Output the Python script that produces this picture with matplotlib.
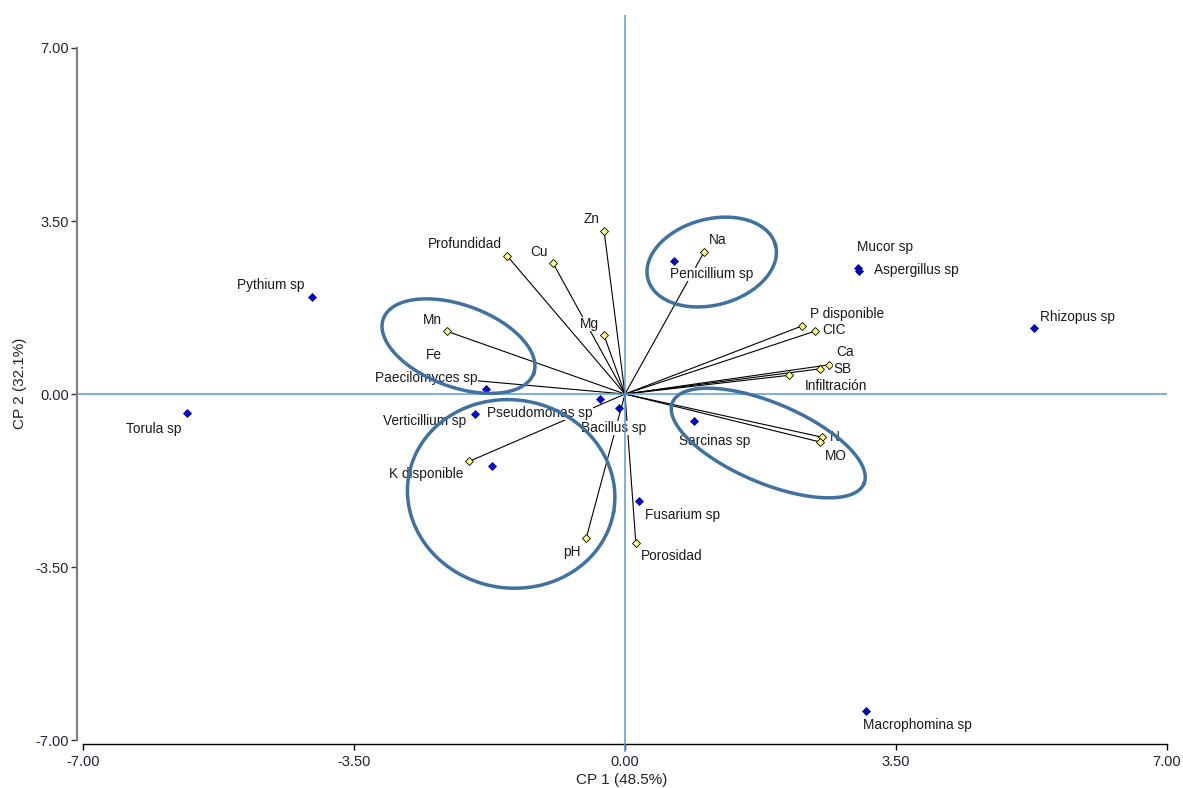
import numpy as np
import matplotlib
matplotlib.use('Agg')
import matplotlib.pyplot as plt

plt.rcParams['font.family'] = ['Liberation Sans', 'DejaVu Sans']

# variables del suelo (vectores desde el origen)
var_names = ['Zn', 'Profundidad', 'Cu', 'Mg', 'Mn', 'Fe', 'Na', 'P disponible', 'CIC',
             'Ca', 'SB', 'Infiltración', 'N', 'MO', 'pH', 'Porosidad', 'K disponible']
var_x = [-0.27, -1.52, -0.93, -0.27, -2.30, -2.27, 1.02, 2.29, 2.45,
         2.63, 2.52, 2.12, 2.54, 2.52, -0.50, 0.14, -2.01]
var_y = [3.30, 2.79, 2.65, 1.19, 1.27, 0.32, 2.87, 1.38, 1.27,
         0.59, 0.51, 0.38, -0.87, -0.97, -2.91, -3.01, -1.36]

# microorganismos
sp_names = ['Pythium sp', 'Torula sp', 'Paecilomyces sp', 'Verticillium sp', 'Pseudomonas sp',
            'Bacillus sp', '', 'Sarcinas sp', 'Fusarium sp', 'Penicillium sp', 'Mucor sp',
            'Aspergillus sp', 'Rhizopus sp', 'Macrophomina sp']
sp_x = [-4.04, -5.66, -1.80, -1.94, -0.32, -0.08, -1.72, 0.89, 0.18, 0.63, 3.01, 3.02, 5.28, 3.11]
sp_y = [1.96, -0.38, 0.10, -0.40, -0.10, -0.28, -1.46, -0.54, -2.16, 2.69, 2.55, 2.49, 1.34, -6.41]

# desplazamiento de etiquetas (pixeles)
var_off = [(-13, 12), (-42, 12), (-14, 11), (-15, 11), (-15, 11), (-15, 23), (14, 12),
           (45, 12), (19, 1), (16, 13), (22, 0), (47, -11), (13, 0), (16, -14),
           (-14, -14), (36, -13), (-43, -13)]
sp_off = [(-41, 12), (-33, -16), (-59, 11), (-50, -7), (-60, -14), (-5, -20), (0, 0),
          (21, -20), (44, -14), (38, -13), (27, 21), (58, 1), (44, 11), (52, -14)]

# elipses: centro (datos), semiejes (px), angulo (grados)
ellipses = [((1.12, 2.67), 66, 43, 15),
            ((-2.15, 0.97), 80, 41, -20),
            ((-1.47, -2.02), 104, 94, -10),
            ((1.85, -0.99), 104, 40, -23)]

W, H = 1183, 788
fig = plt.figure(figsize=(W / 100, H / 100), dpi=100)
ax = fig.add_axes([77 / W, (H - 752) / H, (1167 - 77) / W, (752 - 15) / H])
ax.set_xlim(-7.077, 7.0)
ax.set_ylim(-7.24, 7.667)

# lineas de referencia por encima del fondo de las etiquetas
ax.axhline(0, color='#5B9BD5', lw=1.1, zorder=4.5)
ax.axvline(0, color='#5B9BD5', lw=1.1, zorder=4.5)

for x, y in zip(var_x, var_y):
    ax.plot([0, x], [0, y], color='black', lw=0.8, zorder=2)

ax.plot(var_x, var_y, linestyle='none', marker='D', markersize=4.5,
        markerfacecolor='#FFFF80', markeredgecolor='black', markeredgewidth=0.6, zorder=3)
ax.plot(sp_x, sp_y, linestyle='none', marker='D', markersize=4.5,
        markerfacecolor='#0000CC', markeredgecolor='#000080', markeredgewidth=0.5, zorder=3)

for name, x, y, (dx, dy) in zip(var_names + sp_names, var_x + sp_x, var_y + sp_y, var_off + sp_off):
    if not name:
        continue
    ax.annotate(name, (x, y), xytext=(dx, dy), textcoords='offset pixels',
                ha='center', va='center', fontsize=9.8, color='#1a1a1a', zorder=4,
                bbox=dict(facecolor='white', edgecolor='none', pad=0.1))

# elipses dibujadas en espacio de pixeles
sx = ax.get_position().width * W / (ax.get_xlim()[1] - ax.get_xlim()[0])
sy = ax.get_position().height * H / (ax.get_ylim()[1] - ax.get_ylim()[0])
t = np.linspace(0, 2 * np.pi, 300)
for (cx, cy), a, b, ang in ellipses:
    th = np.radians(ang)
    ex = cx + (a * np.cos(t) * np.cos(th) - b * np.sin(t) * np.sin(th)) / sx
    ey = cy + (a * np.cos(t) * np.sin(th) + b * np.sin(t) * np.cos(th)) / sy
    ax.plot(ex, ey, color='#41729F', lw=2.5, zorder=5)

# ejes separados
ticks = [-7.0, -3.5, 0.0, 3.5, 7.0]
ax.spines['top'].set_visible(False)
ax.spines['right'].set_visible(False)
ax.spines['left'].set_bounds(-7, 7)
ax.spines['left'].set_color('#808080')
ax.spines['left'].set_linewidth(1.6)
ax.spines['bottom'].set_position(('data', -7.08))
ax.spines['bottom'].set_bounds(-7, 7)
ax.spines['bottom'].set_linewidth(1.0)
ax.set_xticks(ticks)
ax.set_yticks(ticks)
ax.set_xticklabels([f'{v:.2f}' for v in ticks])
ax.set_yticklabels([f'{v:.2f}' for v in ticks])
ax.tick_params(axis='both', labelsize=10.5, labelcolor='#222233', length=4, width=1)
ax.tick_params(axis='y', color='#333333', pad=2)

ax.set_xlabel('CP 1 (48.5%)', fontsize=11, labelpad=3, color='#222222')
ax.set_ylabel('CP 2 (32.1%)', fontsize=11, labelpad=6, color='#222222')

fig.savefig('out.png', dpi=100)
